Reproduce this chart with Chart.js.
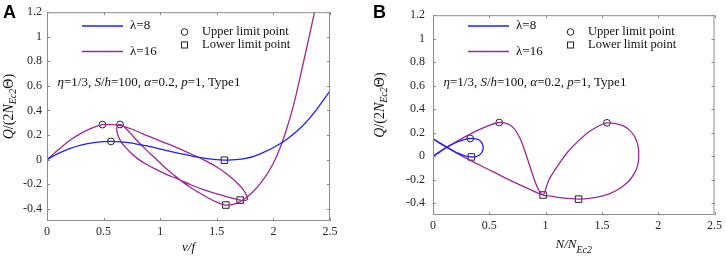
<!DOCTYPE html>
<html>
<head>
<meta charset="utf-8">
<script src="https://cdn.jsdelivr.net/npm/chart.js@4.4.1/dist/chart.umd.min.js"></script>
<style>
  body { margin: 0; background: #fff; }
  #wrap { position: relative; width: 726px; height: 258px; }
  .panel { position: absolute; top: 0; width: 363px; height: 258px; }
</style>
</head>
<body>
<div id="wrap">
  <div class="panel" style="left:0"><canvas id="chartA" width="363" height="258"></canvas></div>
  <div class="panel" style="left:363px"><canvas id="chartB" width="363" height="258"></canvas></div>
</div>
<script>
const xTicks = [0, 0.5, 1, 1.5, 2, 2.5];
const yTicks = [-0.4, -0.2, 0, 0.2, 0.4, 0.6, 0.8, 1, 1.2];

// panel A: Q/(2N_Ec2 Θ) against v/f
const aBlueV = [0, 0.1, 0.2, 0.3, 0.4, 0.5, 0.565, 0.7, 0.883, 1.05, 1.265, 1.4, 1.567, 1.735, 1.88, 2.074, 2.236, 2.353, 2.5];
const aBlueQ = [0, 0.05, 0.09, 0.118, 0.136, 0.146, 0.148, 0.14, 0.111, 0.075, 0.032, 0.01, -0.004, 0.005, 0.045, 0.137, 0.255, 0.374, 0.56];

const aPurpleV = [0, 0.05, 0.1, 0.2, 0.3, 0.4, 0.49, 0.56, 0.64, 0.735, 0.84, 0.94, 1.1, 1.25, 1.38, 1.5, 1.6, 1.68, 1.73, 1.76, 1.772, 1.76, 1.735, 1.706,
  1.6, 1.5, 1.382, 1.27, 1.16, 1.05, 0.95, 0.87, 0.8, 0.74, 0.69, 0.655, 0.63, 0.618, 0.618, 0.628, 0.645,
  0.68, 0.73, 0.794, 0.87, 0.94, 1.05, 1.16, 1.265, 1.382, 1.45, 1.5, 1.545, 1.58,
  1.62, 1.665, 1.72, 1.8, 1.88, 1.96, 2.03, 2.1, 2.18, 2.26, 2.34, 2.4];
const aPurpleQ = [0, 0.04, 0.08, 0.155, 0.213, 0.258, 0.284, 0.285, 0.279, 0.253, 0.212, 0.174, 0.115, 0.055, 0, -0.06, -0.125, -0.19, -0.24, -0.285, -0.318, -0.331, -0.334, -0.33,
  -0.305, -0.28, -0.245, -0.205, -0.16, -0.118, -0.074, -0.034, 0.008, 0.055, 0.103, 0.145, 0.19, 0.23, 0.262, 0.28, 0.286,
  0.268, 0.222, 0.155, 0.085, 0.025, -0.07, -0.155, -0.225, -0.29, -0.325, -0.346, -0.362, -0.37,
  -0.368, -0.358, -0.335, -0.28, -0.2, -0.095, 0.03, 0.2, 0.45, 0.77, 1.1, 1.36];

const aUpperV = [0.565, 0.49, 0.645];
const aUpperQ = [0.148, 0.285, 0.286];
const aLowerV = [1.567, 1.58, 1.706];
const aLowerQ = [-0.005, -0.37, -0.33];

// panel B: Q/(2N_Ec2 Θ) against N/N_Ec2
const bBlueN = [0, 0.06, 0.12, 0.2, 0.27, 0.33, 0.39, 0.425, 0.445, 0.44, 0.415, 0.38, 0.341, 0.28, 0.2, 0.12, 0.06, 0, -0.05];
const bBlueQ = [0, 0.035, 0.075, 0.115, 0.14, 0.151, 0.145, 0.125, 0.085, 0.045, 0.012, -0.003, -0.006, 0.006, 0.035, 0.078, 0.112, 0.148, 0.18];

const bPurpleN = [0, 0.06, 0.12, 0.2, 0.3, 0.4, 0.5, 0.588, 0.64, 0.68, 0.72, 0.755, 0.785, 0.81, 0.835, 0.86, 0.89, 0.92, 0.95, 0.978,
  0.995, 1.03, 1.08, 1.13, 1.2, 1.28, 1.36, 1.44, 1.5, 1.545, 1.62, 1.69, 1.745, 1.785, 1.812, 1.825, 1.827,
  1.823, 1.81, 1.785, 1.75, 1.7, 1.64, 1.57, 1.49, 1.4, 1.293, 1.15, 1.05, 0.978, 0.85, 0.7, 0.55, 0.4, 0.25, 0.12, 0, -0.05];
const bPurpleQ = [0, 0.04, 0.075, 0.12, 0.173, 0.222, 0.263, 0.287, 0.282, 0.268, 0.235, 0.185, 0.125, 0.06, -0.01, -0.085, -0.17, -0.25, -0.305, -0.33,
  -0.295, -0.2, -0.12, -0.05, 0.04, 0.12, 0.19, 0.24, 0.27, 0.284, 0.278, 0.258, 0.222, 0.175, 0.12, 0.06, 0,
  -0.05, -0.1, -0.15, -0.2, -0.245, -0.285, -0.318, -0.342, -0.357, -0.365, -0.355, -0.34, -0.33, -0.278, -0.212, -0.14, -0.068, 0.005, 0.08, 0.148, 0.175];

const bUpperN = [0.33, 0.588, 1.545];
const bUpperQ = [0.151, 0.287, 0.284];
const bLowerN = [0.341, 0.978, 1.293];
const bLowerQ = [-0.006, -0.33, -0.365];

const BLUE = '#1f1fff';
const PURPLE = '#9a2896';
const SERIF = '"Liberation Serif", "Times New Roman", serif';
const R = s => s + 'px ' + SERIF;
const I = s => 'italic ' + s + 'px ' + SERIF;

const pts = (xs, ys) => xs.map((x, i) => ({ x: x, y: ys[i] }));

function rich(ctx, parts, x, y, align) {
  let w = 0;
  parts.forEach(p => { ctx.font = p[1]; w += ctx.measureText(p[0]).width; });
  let cx = align === 'center' ? x - w / 2 : x;
  parts.forEach(p => {
    ctx.font = p[1];
    ctx.fillText(p[0], cx, y + (p[2] || 0));
    cx += ctx.measureText(p[0]).width;
  });
}

const yTitle = [['Q', I(14)], ['/(2', R(14)], ['N', I(14)], ['Ec2', I(10), 4], ['\u0398)', R(14)]];
const note = [['\u03b7', I(13)], ['=1/3, ', R(13)], ['S', I(13)], ['/', R(13)], ['h', I(13)], ['=100, ', R(13)],
  ['\u03b1', I(13)], ['=0.2, ', R(13)], ['p', I(13)], ['=1, Type1', R(13)]];

const decor = {
  id: 'decor',
  afterDraw(chart, args, o) {
    const { ctx, chartArea: a, scales } = chart;
    ctx.save();
    // box and inward ticks
    ctx.strokeStyle = '#8c8c8c';
    ctx.lineWidth = 1;
    ctx.strokeRect(a.left + 0.5, a.top + 0.5, a.right - a.left - 1, a.bottom - a.top - 1);
    ctx.beginPath();
    xTicks.forEach(v => {
      const px = Math.round(scales.x.getPixelForValue(v)) + 0.5;
      ctx.moveTo(px, a.bottom); ctx.lineTo(px, a.bottom - 3);
      ctx.moveTo(px, a.top); ctx.lineTo(px, a.top + 3);
    });
    yTicks.forEach(v => {
      const py = Math.round(scales.y.getPixelForValue(v)) + 0.5;
      ctx.moveTo(a.left, py); ctx.lineTo(a.left + 3, py);
      ctx.moveTo(a.right, py); ctx.lineTo(a.right - 3, py);
    });
    ctx.stroke();

    // legend
    const L = a.left;
    ctx.lineWidth = 1.3;
    ctx.strokeStyle = BLUE;
    ctx.beginPath(); ctx.moveTo(L + 35, 26); ctx.lineTo(L + 76, 26); ctx.stroke();
    ctx.strokeStyle = PURPLE;
    ctx.beginPath(); ctx.moveTo(L + 35, 51.5); ctx.lineTo(L + 76, 51.5); ctx.stroke();
    ctx.fillStyle = '#111';
    ctx.textBaseline = 'middle';
    ctx.textAlign = 'left';
    rich(ctx, [['\u03bb=8', R(13)]], L + 83, 26);
    rich(ctx, [['\u03bb=16', R(13)]], L + 83, 52);
    ctx.strokeStyle = '#222';
    ctx.lineWidth = 1;
    ctx.beginPath(); ctx.arc(L + 137.5, 32, 3.3, 0, Math.PI * 2); ctx.stroke();
    ctx.strokeRect(L + 134.5, 42, 6, 6);
    rich(ctx, [['Upper limit point', R(12.5)]], L + 155, 32);
    rich(ctx, [['Lower limit point', R(12.5)]], L + 155, 45);

    // parameters
    ctx.textBaseline = 'alphabetic';
    rich(ctx, note, L + 10.5, 86);

    // axis titles
    ctx.textBaseline = 'middle';
    rich(ctx, o.xTitle, (a.left + a.right) / 2, o.xTitleY, 'center');
    ctx.save();
    ctx.translate(o.yTitleX, (a.top + a.bottom) / 2 - 10);
    ctx.rotate(-Math.PI / 2);
    rich(ctx, yTitle, 0, 0, 'center');
    ctx.restore();

    // panel letter
    ctx.fillStyle = '#000';
    ctx.textBaseline = 'alphabetic';
    ctx.font = 'bold 18px "Liberation Sans", Arial, sans-serif';
    ctx.fillText(o.letter, o.letterX, 18);
    ctx.restore();
  }
};

function lineSet(data, color) {
  return { data: data, showLine: true, borderColor: color, borderWidth: 1.3, pointRadius: 0, tension: 0.3, fill: false };
}
function markSet(data, style, r) {
  return { data: data, showLine: false, pointStyle: style, pointRadius: r, pointBorderWidth: 1,
    borderColor: '#222', backgroundColor: 'rgba(0,0,0,0)' };
}

function makeChart(id, datasets, cfg) {
  return new Chart(document.getElementById(id), {
    type: 'scatter',
    data: { datasets: datasets },
    options: {
      responsive: false,
      animation: false,
      events: [],
      layout: { padding: { top: 5, right: cfg.padRight, left: 0, bottom: 0 } },
      scales: {
        x: {
          type: 'linear', min: 0, max: 2.5,
          afterBuildTicks: s => { s.ticks = xTicks.map(v => ({ value: v })); },
          afterFit: s => { s.height = cfg.xHeight; },
          grid: { display: false, drawTicks: false },
          border: { display: false },
          ticks: { color: '#262626', font: { family: SERIF, size: 12 }, padding: 4, callback: v => String(v) }
        },
        y: {
          type: 'linear', min: -0.5, max: 1.2,
          afterBuildTicks: s => { s.ticks = yTicks.map(v => ({ value: v })); },
          afterFit: s => { s.width = cfg.yWidth; },
          grid: { display: false, drawTicks: false },
          border: { display: false },
          ticks: { color: '#262626', font: { family: SERIF, size: 12 }, padding: cfg.yPad, callback: v => String(v) }
        }
      },
      plugins: {
        legend: { display: false },
        tooltip: { enabled: false },
        decor: cfg.decor
      }
    },
    plugins: [decor]
  });
}

makeChart('chartA', [
  lineSet(pts(aBlueV, aBlueQ), BLUE),
  lineSet(pts(aPurpleV, aPurpleQ), PURPLE),
  markSet(pts(aUpperV, aUpperQ), 'circle', 3.4),
  markSet(pts(aLowerV, aLowerQ), 'rect', 4.6)
], {
  padRight: 33, xHeight: 37, yWidth: 47, yPad: 5,
  decor: { letter: 'A', letterX: 3, xTitle: [['v/f', I(13)]], xTitleY: 248, yTitleX: 9 }
});

makeChart('chartB', [
  lineSet(pts(bBlueN, bBlueQ), BLUE),
  lineSet(pts(bPurpleN, bPurpleQ), PURPLE),
  markSet(pts(bUpperN, bUpperQ), 'circle', 3.4),
  markSet(pts(bLowerN, bLowerQ), 'rect', 4.6)
], {
  padRight: 9, xHeight: 43, yWidth: 70, yPad: 8,
  decor: { letter: 'B', letterX: 10, xTitle: [['N', I(13)], ['/', I(13)], ['N', I(13)], ['Ec2', I(10), 5]], xTitleY: 245, yTitleX: 17 }
});
</script>
</body>
</html>
